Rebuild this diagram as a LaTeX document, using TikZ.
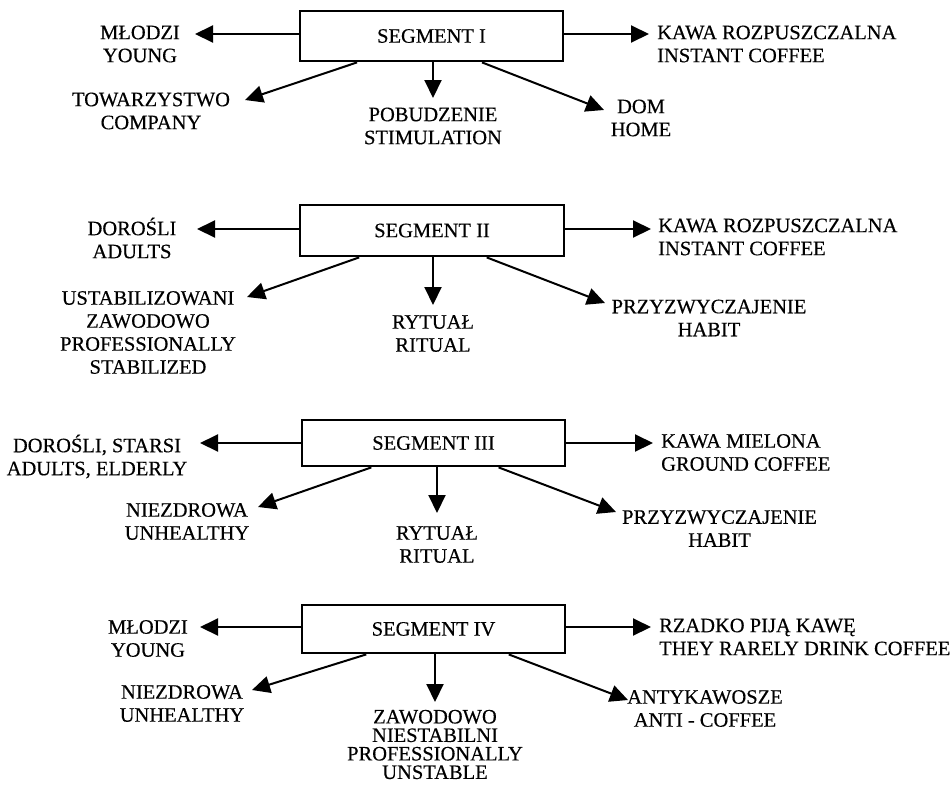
\documentclass[tikz,border=0pt]{standalone}
\usepackage{fontspec}
\setmainfont{Liberation Serif}[FakeBold=0.35]
\usetikzlibrary{arrows.meta,calc}
\begin{document}
\begin{tikzpicture}[x=1pt,y=-1pt,
  segbox/.style={draw,line width=2.8pt,inner sep=0pt,minimum width=263pt,font=\fontsize{20.5pt}{23pt}\selectfont},
  lbl/.style={inner sep=0pt,align=center,font=\fontsize{20.5pt}{23pt}\selectfont},
  lblr/.style={inner sep=0pt,align=left,anchor=west,font=\fontsize{20.5pt}{23pt}\selectfont},
  conn/.style={line width=2pt,-{Triangle[length=18pt,width=17pt]}}]
\useasboundingbox (0,0) rectangle (952,785);

% ---------- Segment I ----------
\node[segbox,minimum height=50pt] (s1) at (431.5,36) {SEGMENT I};
\node[lbl] (t1l) at (140,44) {MŁODZI\\YOUNG};
\node[lbl] (t1bl) at (151,111) {TOWARZYSTWO\\COMPANY};
\node[lbl] (t1bm) at (433,126) {POBUDZENIE\\STIMULATION};
\node[lbl] (t1br) at (641,118) {DOM\\HOME};
\node[lblr] (t1r) at (657,44) {KAWA ROZPUSZCZALNA\\INSTANT COFFEE};
\coordinate (c1l) at (195,34);
\coordinate (c1r) at (649,34);
\coordinate (c1bl) at (245,100);
\coordinate (c1bm) at (433,98);
\coordinate (c1br) at (604,110);
\draw[conn] (s1.west |- c1l) -- (c1l);
\draw[conn] (s1.east |- c1r) -- (c1r);
\draw[conn] ($(s1.south west)!0.22!(s1.south east)$) -- (c1bl);
\draw[conn] (s1.south -| c1bm) -- (c1bm);
\draw[conn] ($(s1.south west)!0.69!(s1.south east)$) -- (c1br);

% ---------- Segment II ----------
\node[segbox,minimum width=264pt,minimum height=51pt] (s2) at (432,230.5) {SEGMENT II};
\node[lbl] (t2l) at (132,238) {DOROŚLI\\ADULTS};
\node[lbl] (t2bl) at (148,332.5) {USTABILIZOWANI\\ZAWODOWO\\PROFESSIONALLY\\STABILIZED};
\node[lbl] (t2bm) at (433,333.5) {RYTUAŁ\\RITUAL};
\node[lbl] (t2br) at (709,318) {PRZYZWYCZAJENIE\\HABIT};
\node[lblr] (t2r) at (658,237) {KAWA ROZPUSZCZALNA\\INSTANT COFFEE};
\coordinate (c2l) at (197,229);
\coordinate (c2r) at (651,229);
\coordinate (c2bl) at (247,297);
\coordinate (c2bm) at (433,305);
\coordinate (c2br) at (605,303);
\draw[conn] (s2.west |- c2l) -- (c2l);
\draw[conn] (s2.east |- c2r) -- (c2r);
\draw[conn] ($(s2.south west)!0.227!(s2.south east)$) -- (c2bl);
\draw[conn] (s2.south -| c2bm) -- (c2bm);
\draw[conn] ($(s2.south west)!0.705!(s2.south east)$) -- (c2br);

% ---------- Segment III ----------
\node[segbox,minimum height=46pt] (s3) at (433.5,443) {SEGMENT III};
\node[lbl] (t3l) at (97,456.5) {DOROŚLI, STARSI\\ADULTS, ELDERLY};
\node[lbl] (t3bl) at (187,521.5) {NIEZDROWA\\UNHEALTHY};
\node[lbl] (t3bm) at (437,544.5) {RYTUAŁ\\RITUAL};
\node[lbl] (t3br) at (719.5,528.5) {PRZYZWYCZAJENIE\\HABIT};
\node[lblr] (t3r) at (661,452.5) {KAWA MIELONA\\GROUND COFFEE};
\coordinate (c3l) at (200,443);
\coordinate (c3r) at (653,443);
\coordinate (c3bl) at (258,507);
\coordinate (c3bm) at (437,513);
\coordinate (c3br) at (616,512);
\draw[conn] (s3.west |- c3l) -- (c3l);
\draw[conn] (s3.east |- c3r) -- (c3r);
\draw[conn] ($(s3.south west)!0.266!(s3.south east)$) -- (c3bl);
\draw[conn] (s3.south -| c3bm) -- (c3bm);
\draw[conn] ($(s3.south west)!0.745!(s3.south east)$) -- (c3br);

% ---------- Segment IV ----------
\node[segbox,minimum height=48pt] (s4) at (433.5,629) {SEGMENT IV};
\node[lbl] (t4l) at (148,638.5) {MŁODZI\\YOUNG};
\node[lbl] (t4bl) at (182,703.5) {NIEZDROWA\\UNHEALTHY};
\node[lbl,font=\fontsize{20.5pt}{18.5pt}\selectfont] (t4bm) at (435,744.5) {ZAWODOWO\\NIESTABILNI\\PROFESSIONALLY\\UNSTABLE};
\node[lbl] (t4br) at (705,708.5) {ANTYKAWOSZE\\ANTI - COFFEE};
\node[lblr] (t4r) at (659,637) {RZADKO PIJĄ KAWĘ\\THEY RARELY DRINK COFFEE};
\coordinate (c4l) at (200,627);
\coordinate (c4r) at (651,627);
\coordinate (c4bl) at (252,690);
\coordinate (c4bm) at (435,702);
\coordinate (c4br) at (628,700);
\draw[conn] (s4.west |- c4l) -- (c4l);
\draw[conn] (s4.east |- c4r) -- (c4r);
\draw[conn] ($(s4.south west)!0.247!(s4.south east)$) -- (c4bl);
\draw[conn] (s4.south -| c4bm) -- (c4bm);
\draw[conn] ($(s4.south west)!0.783!(s4.south east)$) -- (c4br);
\end{tikzpicture}
\end{document}
